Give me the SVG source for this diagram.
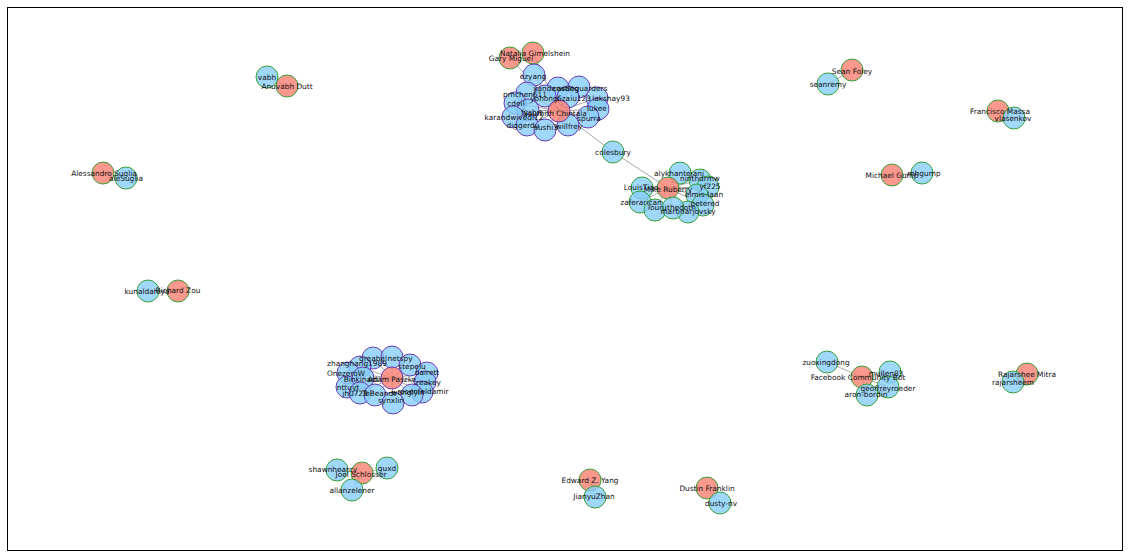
<svg xmlns="http://www.w3.org/2000/svg" width="1130" height="558" viewBox="0 0 1130 558">
<style>
.bg{fill:#fff}
.frame{fill:none;stroke:#000;stroke-width:1}
.e{stroke:#a8a8a8;stroke-width:1;fill:none}
.b{fill:#87cefa;fill-opacity:0.8}
.r{fill:#fa8072;fill-opacity:0.8}
.g{stroke:#38a038;stroke-width:1}
.p{stroke:#6a3fb5;stroke-width:1}
text{font-family:"DejaVu Sans","Liberation Sans",sans-serif;font-size:7.4px;fill:#111;text-anchor:middle;dominant-baseline:central}
</style>
<rect class="bg" x="0" y="0" width="1130" height="558"/>
<rect class="frame" x="7.5" y="7.5" width="1115" height="543"/>
<g id="edges">
<line class="e" x1="559" y1="111" x2="613" y2="152"/>
<line class="e" x1="613" y1="152" x2="668" y2="188"/>
<line class="e" x1="510" y1="58" x2="559" y2="111"/>
<line class="e" x1="533" y1="53" x2="559" y2="111"/>
<line class="e" x1="559" y1="111" x2="534" y2="75"/><line class="e" x1="559" y1="111" x2="558" y2="88"/><line class="e" x1="559" y1="111" x2="579" y2="87"/><line class="e" x1="559" y1="111" x2="527" y2="93"/><line class="e" x1="559" y1="111" x2="515" y2="103"/><line class="e" x1="559" y1="111" x2="545" y2="96"/><line class="e" x1="559" y1="111" x2="568" y2="97"/><line class="e" x1="559" y1="111" x2="597" y2="98"/><line class="e" x1="559" y1="111" x2="598" y2="109"/><line class="e" x1="559" y1="111" x2="513" y2="117"/><line class="e" x1="559" y1="111" x2="528" y2="110"/><line class="e" x1="559" y1="111" x2="527" y2="125"/><line class="e" x1="559" y1="111" x2="545" y2="130"/><line class="e" x1="559" y1="111" x2="568" y2="125"/><line class="e" x1="559" y1="111" x2="588" y2="117"/>
<line class="e" x1="668" y1="188" x2="680" y2="173"/><line class="e" x1="668" y1="188" x2="700" y2="180"/><line class="e" x1="668" y1="188" x2="708" y2="187"/><line class="e" x1="668" y1="188" x2="642" y2="188"/><line class="e" x1="668" y1="188" x2="640" y2="202"/><line class="e" x1="668" y1="188" x2="655" y2="210"/><line class="e" x1="668" y1="188" x2="673" y2="208"/><line class="e" x1="668" y1="188" x2="688" y2="212"/><line class="e" x1="668" y1="188" x2="703" y2="205"/><line class="e" x1="668" y1="188" x2="697" y2="195"/>
<line class="e" x1="392" y1="378" x2="373" y2="358"/><line class="e" x1="392" y1="378" x2="392" y2="357"/><line class="e" x1="392" y1="378" x2="410" y2="365"/><line class="e" x1="392" y1="378" x2="360" y2="367"/><line class="e" x1="392" y1="378" x2="427" y2="373"/><line class="e" x1="392" y1="378" x2="348" y2="373"/><line class="e" x1="392" y1="378" x2="425" y2="382"/><line class="e" x1="392" y1="378" x2="347" y2="387"/><line class="e" x1="392" y1="378" x2="360" y2="393"/><line class="e" x1="392" y1="378" x2="375" y2="395"/><line class="e" x1="392" y1="378" x2="393" y2="403"/><line class="e" x1="392" y1="378" x2="412" y2="395"/><line class="e" x1="392" y1="378" x2="422" y2="392"/><line class="e" x1="392" y1="378" x2="363" y2="378"/>
<line class="e" x1="862" y1="377" x2="827" y2="362"/><line class="e" x1="862" y1="377" x2="890" y2="372"/><line class="e" x1="862" y1="377" x2="888" y2="387"/><line class="e" x1="862" y1="377" x2="867" y2="395"/>
<line class="e" x1="362" y1="473" x2="337" y2="470"/><line class="e" x1="362" y1="473" x2="387" y2="468"/><line class="e" x1="362" y1="473" x2="352" y2="490"/>
<line class="e" x1="590" y1="480" x2="595" y2="497"/>
<line class="e" x1="707" y1="488" x2="720" y2="503"/>
<line class="e" x1="267" y1="77" x2="287" y2="86"/>
<line class="e" x1="103" y1="173" x2="126" y2="178"/>
<line class="e" x1="852" y1="70" x2="828" y2="84"/>
<line class="e" x1="998" y1="111" x2="1014" y2="118"/>
<line class="e" x1="892" y1="175" x2="922" y2="173"/>
<line class="e" x1="148" y1="291" x2="178" y2="291"/>
<line class="e" x1="1027" y1="374" x2="1013" y2="382"/>
</g>
<g id="top-cluster">
<circle class="r g" cx="510" cy="58" r="11"/>
<circle class="r g" cx="533" cy="53" r="11"/>
<circle class="b p" cx="534" cy="75" r="11"/>
<circle class="b p" cx="558" cy="88" r="11"/>
<circle class="b p" cx="579" cy="87" r="11"/>
<circle class="b p" cx="527" cy="93" r="11"/>
<circle class="b p" cx="545" cy="96" r="11"/>
<circle class="b p" cx="568" cy="97" r="11"/>
<circle class="b p" cx="597" cy="98" r="11"/>
<circle class="b p" cx="515" cy="103" r="11"/>
<circle class="b p" cx="598" cy="109" r="11"/>
<circle class="b p" cx="528" cy="110" r="11"/>
<circle class="b p" cx="513" cy="117" r="11"/>
<circle class="b p" cx="588" cy="117" r="11"/>
<circle class="b p" cx="527" cy="125" r="11"/>
<circle class="b p" cx="568" cy="125" r="11"/>
<circle class="b p" cx="545" cy="130" r="11"/>
<circle class="r p" cx="559" cy="111" r="11"/>
<text x="511" y="58">Gary Miguel</text>
<text x="535" y="53">Natalia Gimelshein</text>
<text x="533" y="76">ezyang</text>
<text x="556" y="88">xanderwang</text>
<text x="580" y="88">castleguarders</text>
<text x="525" y="94">pmchen611</text>
<text x="544" y="98">yohong</text>
<text x="574" y="98">6zaiu123</text>
<text x="611" y="98">lakshay93</text>
<text x="516" y="103">cdeil</text>
<text x="597" y="108">lukee</text>
<text x="514" y="117">karandwivedi12</text>
<text x="532" y="112">fvsbrt</text>
<text x="555" y="113">Soumith Chintala</text>
<text x="589" y="118">spurra</text>
<text x="523" y="125">diggerdu</text>
<text x="546" y="127">sushi3</text>
<text x="569" y="126">willfrey</text>
</g>
<g id="colesbury"><circle class="b g" cx="613" cy="152" r="11"/><text x="613" y="152">colesbury</text></g>
<g id="mike-cluster">
<circle class="b g" cx="680" cy="173" r="11"/>
<circle class="b g" cx="700" cy="180" r="11"/>
<circle class="b g" cx="708" cy="187" r="11"/>
<circle class="b g" cx="697" cy="195" r="11"/>
<circle class="b g" cx="642" cy="188" r="11"/>
<circle class="b g" cx="640" cy="202" r="11"/>
<circle class="b g" cx="703" cy="205" r="11"/>
<circle class="b g" cx="655" cy="210" r="11"/>
<circle class="b g" cx="688" cy="212" r="11"/>
<circle class="r g" cx="668" cy="188" r="11"/>
<circle class="b g" cx="673" cy="208" r="11"/>
<text x="679" y="173">alykhantejani</text>
<text x="700" y="178">ninthdrmw</text>
<text x="710" y="186">yf225</text>
<text x="641" y="187">LouisTiao</text>
<text x="668" y="189">Mike Ruberry</text>
<text x="704" y="194">elmis-laan</text>
<text x="641" y="202">zaferarican</text>
<text x="705" y="203">petered</text>
<text x="672" y="207">louruthedotn</text>
<text x="688" y="211">martinarjovsky</text>
</g>
<g id="adam-cluster">
<circle class="b p" cx="373" cy="358" r="11"/>
<circle class="b p" cx="392" cy="357" r="11"/>
<circle class="b p" cx="410" cy="365" r="11"/>
<circle class="b p" cx="360" cy="367" r="11"/>
<circle class="b p" cx="427" cy="373" r="11"/>
<circle class="b p" cx="348" cy="373" r="11"/>
<circle class="b p" cx="425" cy="382" r="11"/>
<circle class="b p" cx="347" cy="387" r="11"/>
<circle class="b p" cx="363" cy="378" r="11"/>
<circle class="b p" cx="422" cy="392" r="11"/>
<circle class="b p" cx="360" cy="393" r="11"/>
<circle class="b p" cx="412" cy="395" r="11"/>
<circle class="b p" cx="375" cy="395" r="11"/>
<circle class="b p" cx="393" cy="403" r="11"/>
<circle class="r p" cx="392" cy="378" r="11"/>
<text x="373" y="358">greabel</text>
<text x="400" y="358">netspy</text>
<text x="357" y="363">zhanghang1989</text>
<text x="412" y="366">stepelu</text>
<text x="346" y="373">OnezeroW</text>
<text x="427" y="372">dairett</text>
<text x="361" y="379">Binkinam</text>
<text x="392" y="379">Adam Paszke</text>
<text x="428" y="382">zeakey</text>
<text x="348" y="387">nttuyt</text>
<text x="423" y="391">rosenfeldamir</text>
<text x="355" y="393">jh0723</text>
<text x="379" y="393">TeBeandt</text>
<text x="408" y="392">wanglyin</text>
<text x="391" y="400">synxlin</text>
</g>
<g id="fb-cluster">
<circle class="b g" cx="827" cy="362" r="11"/>
<circle class="r g" cx="862" cy="377" r="11"/>
<circle class="b g" cx="890" cy="372" r="11"/>
<circle class="b g" cx="888" cy="387" r="11"/>
<circle class="b g" cx="867" cy="395" r="11"/>
<text x="826" y="362">zuoxingdong</text>
<text x="858" y="377">Facebook Community Bot</text>
<text x="886" y="373">mullen83</text>
<text x="888" y="388">geoffreyroeder</text>
<text x="866" y="394">aron-bordin</text>
</g>
<g id="joel-cluster">
<circle class="b g" cx="337" cy="470" r="11"/>
<circle class="r g" cx="362" cy="473" r="11"/>
<circle class="b g" cx="387" cy="468" r="11"/>
<circle class="b g" cx="352" cy="490" r="11"/>
<text x="333" y="469">shawnhearcy</text>
<text x="361" y="474">Joel Schlosser</text>
<text x="387" y="468">guxd</text>
<text x="352" y="490">allanzelener</text>
</g>
<g id="edward"><circle class="r g" cx="590" cy="480" r="11"/><circle class="b g" cx="595" cy="497" r="11"/><text x="590" y="480">Edward Z. Yang</text><text x="594" y="496">JianyuZhan</text></g>
<g id="dustin"><circle class="r g" cx="707" cy="488" r="11"/><circle class="b g" cx="720" cy="503" r="11"/><text x="707" y="488">Dustin Franklin</text><text x="721" y="503">dusty-nv</text></g>
<g id="anuvabh"><circle class="b g" cx="267" cy="77" r="11"/><circle class="r g" cx="287" cy="86" r="11"/><text x="267" y="77">vabh</text><text x="287" y="86">Anuvabh Dutt</text></g>
<g id="alessandro"><circle class="r g" cx="103" cy="173" r="11"/><circle class="b g" cx="126" cy="178" r="11"/><text x="104" y="173">Alessandro Suglia</text><text x="126" y="178">aleSuglia</text></g>
<g id="sean"><circle class="r g" cx="852" cy="70" r="11"/><circle class="b g" cx="828" cy="84" r="11"/><text x="852" y="71">Sean Foley</text><text x="828" y="84">seanremy</text></g>
<g id="francisco"><circle class="r g" cx="998" cy="111" r="11"/><circle class="b g" cx="1014" cy="118" r="11"/><text x="1000" y="111">Francisco Massa</text><text x="1013" y="118">vlasenkov</text></g>
<g id="michael"><circle class="r g" cx="892" cy="175" r="11"/><circle class="b g" cx="922" cy="173" r="11"/><text x="892" y="175">Michael Gump</text><text x="924" y="173">mhgump</text></g>
<g id="richard"><circle class="b g" cx="148" cy="291" r="11"/><circle class="r g" cx="178" cy="291" r="11"/><text x="147" y="291">kunaldahiya</text><text x="178" y="290">Richard Zou</text></g>
<g id="rajarshee"><circle class="r g" cx="1027" cy="374" r="11"/><circle class="b g" cx="1013" cy="382" r="11"/><text x="1027" y="374">Rajarshee Mitra</text><text x="1013" y="382">rajarsheem</text></g>
</svg>
